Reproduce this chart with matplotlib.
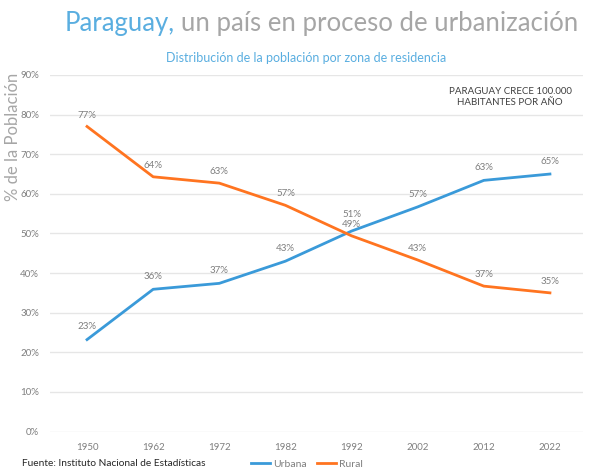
import matplotlib
matplotlib.use("Agg")
import matplotlib.pyplot as plt
from matplotlib.ticker import PercentFormatter

years = ["1950", "1962", "1972", "1982", "1992", "2002", "2012", "2022"]
urbana = [23.2, 35.9, 37.4, 43.0, 50.6, 56.7, 63.4, 65.0]
rural = [77.0, 64.3, 62.7, 57.1, 49.4, 43.3, 36.7, 35.0]

BLUE = "#3a9ad9"
ORANGE = "#ff7420"
GRAY = "#7f7f7f"
FONT = "Lato"

plt.rcParams["font.family"] = [FONT, "DejaVu Sans"]

fig = plt.figure(figsize=(6, 4.72), dpi=100)
ax = fig.add_axes([50 / 600, 1 - 431.5 / 472, 533 / 600, 356.5 / 472])

x = list(range(len(years)))
ax.plot(x, urbana, color=BLUE, lw=2, label="Urbana")
ax.plot(x, rural, color=ORANGE, lw=2, label="Rural")

for i in x:
    up = 9 if years[i] == "1992" else 6  # the two 1992 labels sit on top of each other
    ax.annotate(f"{urbana[i]:.0f}%", (i, urbana[i]), xytext=(0, up), textcoords="offset points",
                ha="center", va="bottom", fontsize=7, color=GRAY)
    ax.annotate(f"{rural[i]:.0f}%", (i, rural[i]), xytext=(0, 5), textcoords="offset points",
                ha="center", va="bottom", fontsize=7, color=GRAY)

ax.set_xlim(-0.56, 7.5)
ax.set_ylim(0, 90)
ax.set_yticks(range(0, 91, 10))
ax.yaxis.set_major_formatter(PercentFormatter(decimals=0))
ax.set_xticks(x)
ax.set_xticklabels(years)
ax.tick_params(length=0, labelsize=7, colors=GRAY, pad=8)
ax.grid(axis="y", color="#e6e6e6", lw=1)
ax.set_axisbelow(True)
for s in ax.spines.values():
    s.set_visible(False)

fig.text(510 / 600, 1 - 97 / 472, "PARAGUAY CRECE 100.000\nHABITANTES POR AÑO",
         ha="center", va="center", fontsize=7, color="#404040", linespacing=1.3)

# title in two colours
t1 = fig.text(65 / 600, 1 - 24 / 472, "Paraguay,", fontsize=18.5, color="#5aaee0",
              ha="left", va="center")
fig.canvas.draw()
bb = t1.get_window_extent(fig.canvas.get_renderer())
fig.text(bb.x1 / 600 + 0.009, 1 - 24 / 472, "un país en proceso de urbanización", fontsize=18.5,
         color="#a6a6a6", ha="left", va="center")

fig.text(306 / 600, 1 - 58 / 472, "Distribución de la población por zona de residencia",
         fontsize=9, color="#5aaee0", ha="center", va="center")
fig.text(13 / 600, 1 - 137 / 472, "% de la Población", fontsize=12, color="#a6a6a6",
         rotation=90, ha="center", va="center")
fig.text(22 / 600, 1 - 463 / 472, "Fuente: Instituto Nacional de Estadísticas", fontsize=7.3,
         color="#262626", ha="left", va="center")

fig.legend(loc="center", bbox_to_anchor=(307 / 600, 1 - 464 / 472), ncol=2, frameon=False,
           fontsize=7.5, labelcolor=GRAY, handlelength=1.8, columnspacing=1.0, handletextpad=0.3)

fig.savefig("out.png", dpi=100)
